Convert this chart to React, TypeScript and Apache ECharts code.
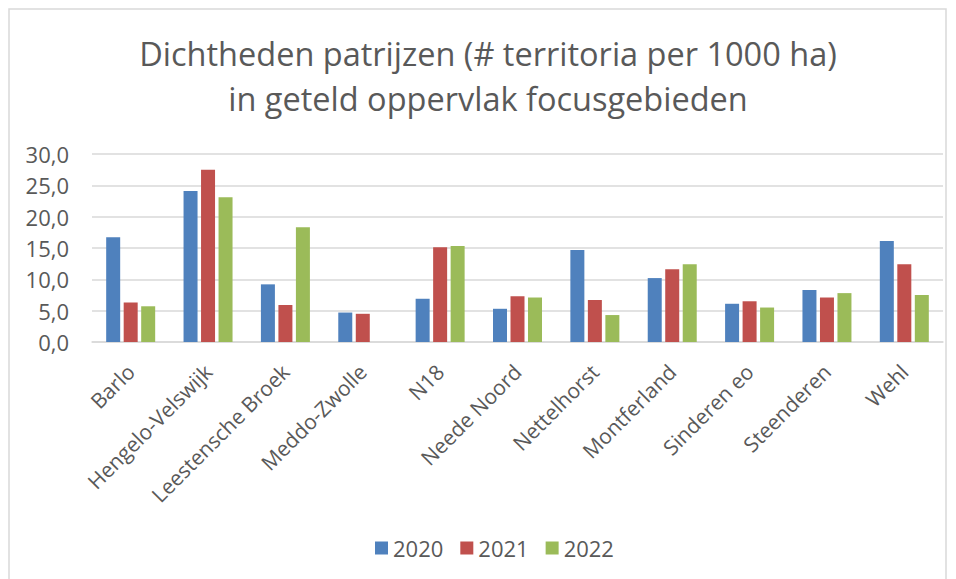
import React, { useEffect, useRef } from "react";
import * as echarts from "echarts";

const categories = [
  "Barlo",
  "Hengelo-Velswijk",
  "Leestensche Broek",
  "Meddo-Zwolle",
  "N18",
  "Neede Noord",
  "Nettelhorst",
  "Montferland",
  "Sinderen eo",
  "Steenderen",
  "Wehl",
];
const values2020 = [16.7, 24.1, 9.2, 4.7, 6.9, 5.3, 14.7, 10.2, 6.1, 8.3, 16.1];
const values2021 = [6.3, 27.5, 5.9, 4.5, 15.1, 7.3, 6.7, 11.6, 6.5, 7.1, 12.4];
const values2022 = [5.7, 23.1, 18.3, null, 15.3, 7.1, 4.3, 12.4, 5.5, 7.8, 7.5];
const seriesNames = ["2020", "2021", "2022"];
const colors = ["#4f81bd", "#c0504d", "#9bbb59"];
const titleText =
  "Dichtheden patrijzen (# territoria per 1000 ha)\nin geteld oppervlak focusgebieden";

const FONT = "'Open Sans', 'Liberation Sans', sans-serif";
const TEXT = "#595959";

export default function App() {
  const ref = useRef<HTMLDivElement>(null);
  useEffect(() => {
    if (!ref.current) return;
    const chart = echarts.init(ref.current, undefined, { renderer: "svg" });
    const data = [values2020, values2021, values2022];
    chart.setOption({
      animation: false,
      backgroundColor: "#ffffff",
      textStyle: { fontFamily: FONT },
      legend: {
        data: seriesNames,
        left: 370,
        top: 532,
        itemWidth: 13,
        itemHeight: 13,
        itemGap: 17,
        icon: "rect",
        textStyle: { fontFamily: FONT, fontSize: 22, color: TEXT },
      },
      graphic: [
        {
          type: "rect",
          shape: { x: 9, y: 9, width: 937, height: 600 },
          style: { fill: "none", stroke: "#d9d9d9", lineWidth: 1.5 },
          silent: true,
        },
        {
          type: "text",
          x: 488,
          y: 31,
          silent: true,
          style: {
            text: titleText,
            fontFamily: FONT,
            fontSize: 32.5,
            fontWeight: "normal",
            fill: TEXT,
            lineHeight: 45,
            align: "center",
            verticalAlign: "top",
          },
        },
      ],
      grid: { left: 92, right: 13, top: 154, bottom: 237, containLabel: false },
      xAxis: {
        type: "category",
        data: categories,
        axisTick: { show: false },
        axisLine: { lineStyle: { color: "#d9d9d9", width: 1.5 } },
        axisLabel: {
          rotate: 45,
          interval: 0,
          fontSize: 21,
          color: TEXT,
          fontFamily: FONT,
          margin: 26,
        },
      },
      yAxis: {
        type: "value",
        min: 0,
        max: 30,
        interval: 5,
        axisLine: { show: false },
        axisTick: { show: false },
        splitLine: { lineStyle: { color: "#d9d9d9", width: 1.5 } },
        axisLabel: {
          fontSize: 22,
          color: TEXT,
          fontFamily: FONT,
          margin: 23,
          formatter: (v: number) => v.toFixed(1).replace(".", ","),
        },
      },
      series: seriesNames.map((name, i) => ({
        name,
        type: "bar",
        data: data[i],
        barWidth: 14,
        barGap: "25%",
        itemStyle: { color: colors[i] },
      })),
    });
    return () => chart.dispose();
  }, []);
  return (
    <div
      ref={ref}
      style={{ position: "absolute", left: 0, top: 0, width: 956, height: 579 }}
    />
  );
}
